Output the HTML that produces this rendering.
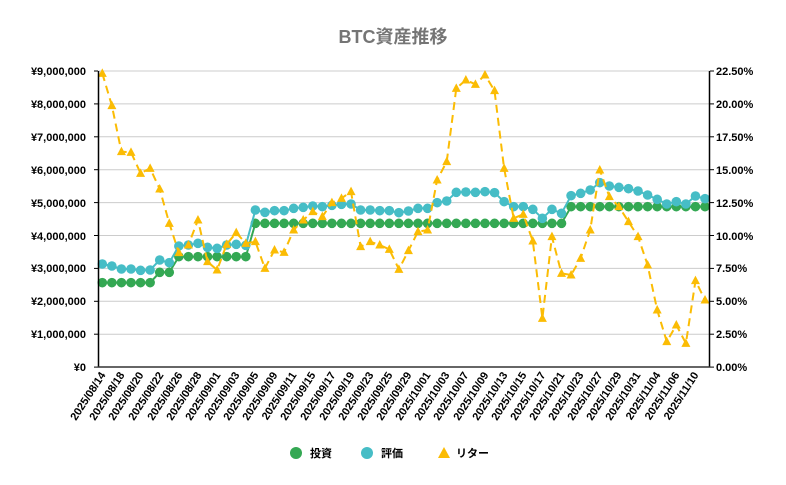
<!DOCTYPE html>
<html><head><meta charset="utf-8"><style>
html,body{margin:0;padding:0;background:#fff;}
svg{display:block;font-family:"Liberation Sans","Noto Sans CJK JP",sans-serif;}
</style></head><body>
<svg id="c" width="786" height="485" viewBox="0 0 786 485">
<text x="393" y="43" text-anchor="middle" font-size="18" font-weight="bold" fill="#757575">BTC資産推移</text>
<g id="grid" stroke="#cccccc" stroke-width="1"></g>
<g font-size="11" font-weight="bold" fill="#000">
<text x="86" y="75" text-anchor="end">¥9,000,000</text>
<text x="86" y="108" text-anchor="end">¥8,000,000</text>
<text x="86" y="141" text-anchor="end">¥7,000,000</text>
<text x="86" y="174" text-anchor="end">¥6,000,000</text>
<text x="86" y="207" text-anchor="end">¥5,000,000</text>
<text x="86" y="240" text-anchor="end">¥4,000,000</text>
<text x="86" y="272" text-anchor="end">¥3,000,000</text>
<text x="86" y="305" text-anchor="end">¥2,000,000</text>
<text x="86" y="338" text-anchor="end">¥1,000,000</text>
<text x="86" y="371" text-anchor="end">¥0</text>
<text x="716" y="75">22.50%</text>
<text x="716" y="108">20.00%</text>
<text x="716" y="141">17.50%</text>
<text x="716" y="174">15.00%</text>
<text x="716" y="207">12.50%</text>
<text x="716" y="240">10.00%</text>
<text x="716" y="272">7.50%</text>
<text x="716" y="305">5.00%</text>
<text x="716" y="338">2.50%</text>
<text x="716" y="371">0.00%</text>
</g>
<g id="xl" font-size="11" font-weight="bold" fill="#000" text-anchor="end">
<text transform="translate(106,375) rotate(-57)">2025/08/14</text>
<text transform="translate(125,375) rotate(-57)">2025/08/18</text>
<text transform="translate(144,375) rotate(-57)">2025/08/20</text>
<text transform="translate(164,375) rotate(-57)">2025/08/22</text>
<text transform="translate(183,375) rotate(-57)">2025/08/26</text>
<text transform="translate(202,375) rotate(-57)">2025/08/28</text>
<text transform="translate(221,375) rotate(-57)">2025/09/01</text>
<text transform="translate(240,375) rotate(-57)">2025/09/03</text>
<text transform="translate(259,375) rotate(-57)">2025/09/05</text>
<text transform="translate(278,375) rotate(-57)">2025/09/09</text>
<text transform="translate(297,375) rotate(-57)">2025/09/11</text>
<text transform="translate(316,375) rotate(-57)">2025/09/15</text>
<text transform="translate(336,375) rotate(-57)">2025/09/17</text>
<text transform="translate(355,375) rotate(-57)">2025/09/19</text>
<text transform="translate(374,375) rotate(-57)">2025/09/23</text>
<text transform="translate(393,375) rotate(-57)">2025/09/25</text>
<text transform="translate(412,375) rotate(-57)">2025/09/29</text>
<text transform="translate(431,375) rotate(-57)">2025/10/01</text>
<text transform="translate(450,375) rotate(-57)">2025/10/03</text>
<text transform="translate(469,375) rotate(-57)">2025/10/07</text>
<text transform="translate(489,375) rotate(-57)">2025/10/09</text>
<text transform="translate(508,375) rotate(-57)">2025/10/13</text>
<text transform="translate(527,375) rotate(-57)">2025/10/15</text>
<text transform="translate(546,375) rotate(-57)">2025/10/17</text>
<text transform="translate(565,375) rotate(-57)">2025/10/21</text>
<text transform="translate(584,375) rotate(-57)">2025/10/23</text>
<text transform="translate(603,375) rotate(-57)">2025/10/27</text>
<text transform="translate(622,375) rotate(-57)">2025/10/29</text>
<text transform="translate(641,375) rotate(-57)">2025/10/31</text>
<text transform="translate(661,375) rotate(-57)">2025/11/04</text>
<text transform="translate(680,375) rotate(-57)">2025/11/06</text>
<text transform="translate(699,375) rotate(-57)">2025/11/10</text>
</g>
<g id="series"></g>
<line x1="98.5" y1="71" x2="98.5" y2="367" stroke="#000" stroke-width="1.5"/>
<line x1="709.5" y1="71" x2="709.5" y2="367" stroke="#000" stroke-width="1.5"/>
<line x1="98" y1="367" x2="710" y2="367" stroke="#333" stroke-width="1.5"/>
<g font-size="11" font-weight="bold" fill="#000">
<circle cx="296" cy="453" r="6" fill="#34a853"/>
<text x="310" y="457">投資</text>
<circle cx="367" cy="453" r="6" fill="#46bdc6"/>
<text x="381" y="457">評価</text>
<polygon points="444,447 450,458 438,458" fill="#fbbc04"/>
<text x="456" y="457">リター</text>
</g>
</svg>
<script>
var ns="http://www.w3.org/2000/svg";
function el(t,a,p){var e=document.createElementNS(ns,t);for(var k in a)e.setAttribute(k,a[k]);p.appendChild(e);return e;}
var g=document.getElementById("grid");
for(var i=0;i<9;i++){var y=71+i*32.9;el("line",{x1:98,x2:710,y1:y,y2:y},g);}
for(var i=0;i<10;i++){var y=71+i*32.9;el("line",{x1:94,x2:98,y1:y,y2:y,stroke:"#000"},g);el("line",{x1:710,x2:714,y1:y,y2:y,stroke:"#000"},g);}
var s=document.getElementById("series");
function X(i){return 102.3+9.567*i;}
function Y(z){return 60+z/3;}
var green=[];for(var i=0;i<64;i++){green.push(i<6?668:i<8?637:i<16?590:i<49?490:440);}
var blue=[612,618,627,627,631,630,600,608,558,555,550,562,565,555,553,556,450,457,452,452,445,442,438,440,436,433,432,450,450,452,452,458,453,445,445,428,423,397,396,397,395,398,425,440,440,448,475,448,460,407,400,390,368,378,382,386,393,405,418,432,425,432,408,416];
var yel=[40,137,275,277,340,325,387,490,578,555,480,605,630,553,518,550,545,625,570,577,510,480,455,470,428,415,395,560,545,555,568,628,572,515,510,360,305,85,60,73,45,92,325,475,463,543,775,530,640,645,595,510,330,410,440,485,530,615,750,845,795,850,662,720];
function pts(a){return a.map(function(z,i){return X(i).toFixed(1)+","+Y(z).toFixed(1);}).join(" ");}
el("polyline",{points:pts(green),fill:"none",stroke:"#34a853","stroke-width":2},s);
green.forEach(function(z,i){el("circle",{cx:X(i),cy:Y(z),r:4.8,fill:"#34a853"},s);});
el("polyline",{points:pts(blue),fill:"none",stroke:"#46bdc6","stroke-width":2},s);
blue.forEach(function(z,i){el("circle",{cx:X(i),cy:Y(z),r:4.8,fill:"#46bdc6"},s);});
el("polyline",{points:pts(yel),fill:"none",stroke:"#fbbc04","stroke-width":2,"stroke-dasharray":"8,5"},s);
yel.forEach(function(z,i){var x=X(i),y=Y(z);el("polygon",{points:x+","+(y-5)+" "+(x+4.5)+","+(y+3.5)+" "+(x-4.5)+","+(y+3.5),fill:"#fbbc04"},s);});
</script>
</body></html>
